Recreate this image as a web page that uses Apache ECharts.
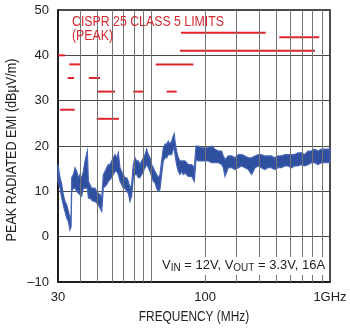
<!DOCTYPE html>
<html><head><meta charset="utf-8">
<script src="https://cdn.jsdelivr.net/npm/echarts@6/dist/echarts.min.js"></script>
<style>html,body{margin:0;padding:0;background:#fff}#c{width:350px;height:329px}</style>
</head><body><div id="c"></div>
<script>
// Measured noise band (frequency in MHz, lower and upper edge in dBµV/m)
const noiseFreq = [30, 30.8, 31.5, 32.1, 32.8, 33.6, 34.3, 35.0, 35.5, 35.8, 36.6, 37.4, 38.2, 39.0, 39.8, 40.7, 41.6, 42.5, 43.8, 44.4, 45.3, 46.3, 47.3, 48.3, 49.4, 50.5, 51.6, 52.7, 53.8, 55.0, 56.2, 57.4, 58.6, 59.9, 61.2, 62.5, 63.9, 65.3, 66.7, 68.2, 69.6, 71.1, 72.7, 74.3, 75.9, 77.5, 79.2, 80.9, 82.7, 84.5, 86.3, 88.2, 90.1, 92.1, 94.1, 96.1, 98.2, 100.3, 102.5, 104.7, 107.0, 109.3, 111.7, 114.1, 116.6, 119.1, 121.7, 124.3, 127.0, 129.8, 132.6, 134.3, 135.5, 138.4, 141.4, 144.5, 147.6, 150.8, 154.1, 157.5, 160.9, 164.4, 168.1, 173.9, 177.7, 183.2, 191.2, 199.6, 208.4, 217.6, 227.0, 237.0, 247.4, 252.8, 258.3, 269.6, 281.5, 293.9, 306.8, 320.3, 334.3, 349.0, 364.3, 380.3, 397.0, 412.7, 430.8, 449.7, 469.5, 490.1, 511.6, 534.1, 557.5, 582.0, 607.6, 634.2, 662.1, 691.2, 721.5, 753.3, 786.3, 820.8, 856.8, 894.6, 933.9, 974.7, 1000];
const noiseLow = [12.2, 10.7, 8.5, 7.0, 5.6, 4.1, 3.3, 1.5, 2.2, 10.0, 10.7, 10.7, 10.0, 9.6, 9.3, 8.9, 10.7, 10.7, 10.7, 8.5, 8.5, 8.1, 7.8, 7.8, 7.4, 7.0, 6.3, 5.6, 10.7, 11.1, 11.5, 12.2, 12.6, 13.0, 13.7, 14.4, 14.4, 13.7, 12.2, 11.5, 10.7, 10.7, 10.0, 9.6, 7.8, 8.9, 13.0, 13.7, 13.7, 13.0, 13.0, 13.7, 14.4, 15.2, 15.9, 15.2, 14.4, 13.3, 12.2, 11.9, 10.7, 10.0, 10.4, 13.7, 16.7, 17.4, 17.4, 18.1, 18.1, 18.1, 19.3, 19.6, 18.1, 15.9, 14.4, 13.7, 14.4, 13.7, 14.1, 13.7, 13.3, 13.3, 13.3, 12.2, 17.0, 16.7, 16.7, 16.7, 16.7, 16.3, 16.3, 16.3, 15.9, 15.2, 13.3, 15.2, 15.2, 14.8, 15.2, 15.6, 15.2, 14.8, 13.7, 15.2, 15.6, 15.2, 14.8, 15.2, 15.2, 14.8, 15.2, 15.2, 15.6, 15.6, 15.2, 15.6, 15.6, 15.9, 15.6, 15.9, 16.3, 16.3, 15.9, 16.3, 16.3, 16.3, 16.3];
const noiseHigh = [15.9, 13.0, 11.5, 9.3, 7.8, 7.0, 5.6, 4.1, 4.8, 13.0, 13.7, 15.2, 14.4, 13.0, 13.7, 13.0, 14.4, 16.7, 18.9, 12.2, 11.5, 10.7, 10.7, 10.7, 10.0, 9.6, 9.3, 8.5, 13.7, 14.4, 15.2, 15.9, 15.9, 16.7, 17.4, 18.1, 17.4, 18.5, 15.2, 14.4, 13.7, 13.0, 13.0, 12.2, 10.7, 11.5, 15.9, 17.4, 16.7, 16.7, 15.9, 16.7, 17.4, 18.1, 19.3, 18.1, 17.4, 15.9, 15.2, 14.4, 13.7, 13.0, 13.7, 16.7, 19.6, 20.4, 20.4, 21.1, 20.4, 21.1, 22.2, 22.7, 21.1, 18.9, 17.4, 16.7, 16.7, 16.7, 16.7, 16.3, 15.9, 15.9, 15.9, 15.2, 20.0, 20.0, 19.6, 19.6, 19.6, 20.0, 19.3, 18.9, 18.9, 17.8, 17.0, 17.8, 17.8, 17.4, 18.1, 18.1, 17.8, 17.4, 17.4, 17.8, 18.1, 18.1, 17.8, 17.8, 17.8, 17.4, 17.8, 17.8, 18.1, 18.1, 18.1, 18.1, 18.5, 18.5, 18.1, 18.9, 18.9, 19.3, 18.9, 19.3, 19.3, 19.3, 19.3];

// CISPR 25 class 5 peak limit segments
const limitStart = [30, 34.7, 34.0, 44.7, 30.8, 50.0, 79.2, 121.8, 49.4, 105.7, 146.5, 520, 144.6];
const limitEnd   = [32.8, 39.8, 36.9, 51.6, 37.2, 62.6, 90.1, 138.5, 65.9, 171.7, 436.6, 871, 824];
const limitLevel = [40, 38, 35, 35, 28, 32, 32, 32, 26, 38, 45, 44, 41];

// Axis ticks / grid
const gridFreqs = [40, 50, 60, 70, 80, 90, 100, 200, 300, 400, 500, 600, 700, 800, 900];
const xTickValues = [30, 200, 1000];
const xTickLabels = ['30', '100', '1GHz'];
const yMin = -10, yMax = 50, yStep = 10;

const SANS = '"Liberation Sans", Arial, sans-serif';
const BLUE = '#2f4f9f';
const RED = '#e0242c';

const series = [];
series.push({
  type: 'line', data: [], silent: true, z: 1,
  markLine: {
    silent: true, symbol: 'none', label: { show: false },
    lineStyle: { color: '#727272', width: 1, type: 'solid' },
    data: gridFreqs.map(f => ({ xAxis: f }))
  }
});
series.push({
  type: 'custom', silent: true, z: 2,
  data: noiseFreq.map((f, i) => [f, noiseLow[i], noiseHigh[i]]),
  encode: { x: 0, y: [1, 2] },
  renderItem: function (params, api) {
    if (params.dataIndex !== 0) return null;
    const pts = [];
    for (let i = 0; i < noiseFreq.length; i++) pts.push(api.coord([noiseFreq[i], noiseHigh[i]]));
    for (let i = noiseFreq.length - 1; i >= 0; i--) pts.push(api.coord([noiseFreq[i], noiseLow[i]]));
    return { type: 'polygon', shape: { points: pts },
      style: { fill: BLUE, stroke: '#4766b6', lineWidth: 1.2 } };
  }
});
limitLevel.forEach((lv, i) => {
  series.push({
    type: 'line', symbol: 'none', silent: true, z: 3,
    data: [[limitStart[i], lv], [limitEnd[i], lv]],
    lineStyle: { color: RED, width: 2 }
  });
});

const option = {
  animation: false,
  grid: { left: 58, right: 20, top: 10, bottom: 47, show: true, borderColor: '#111', borderWidth: 1.5, backgroundColor: '#fff' },
  xAxis: {
    type: 'log', logBase: 10, min: 30, max: 1000,
    axisLine: { show: true, onZero: false, lineStyle: { color: '#111', width: 1.5 } },
    axisTick: { show: false }, axisLabel: { show: false }, splitLine: { show: false }
  },
  yAxis: {
    type: 'value', min: yMin, max: yMax, interval: yStep,
    axisLine: { show: true, lineStyle: { color: '#111', width: 1.5 } },
    axisTick: { show: false },
    axisLabel: { margin: 9, fontSize: 13, fontFamily: SANS, color: '#222',
      formatter: v => (v < 0 ? '\u2013' + Math.abs(v) : String(v)) },
    splitLine: { lineStyle: { color: '#4a4a4a', width: 1 } }
  },
  series: series
};

const chart = echarts.init(document.getElementById('c'), null, { renderer: 'canvas' });
chart.setOption(option);

const graphics = xTickValues.map((v, i) => {
  const p = chart.convertToPixel({ xAxisIndex: 0, yAxisIndex: 0 }, [v, yMin]);
  return { type: 'text', x: p[0], y: p[1] + 9, z: 10,
    style: { text: xTickLabels[i], align: 'center', verticalAlign: 'top', fontSize: 13, fontFamily: SANS, fill: '#222' } };
});
const pMid = chart.convertToPixel({ xAxisIndex: 0, yAxisIndex: 0 }, [Math.sqrt(30 * 1000), (yMin + yMax) / 2]);
graphics.push({
  type: 'text', x: pMid[0], y: 310, scaleX: 0.85, z: 10,
  style: { text: 'FREQUENCY (MHz)', align: 'center', verticalAlign: 'top', fontSize: 14, fontFamily: SANS, fill: '#222' }
});
graphics.push({
  type: 'text', x: 12, y: pMid[1] + 4, rotation: Math.PI / 2, scaleX: 0.9, z: 10,
  style: { text: 'PEAK RADIATED EMI (dB\u00b5V/m)', align: 'center', verticalAlign: 'middle', fontSize: 14, fontFamily: SANS, fill: '#222' }
});
graphics.push({
  type: 'text', x: 72, y: 15, scaleX: 0.88, z: 10,
  style: { text: 'CISPR 25 CLASS 5 LIMITS\n(PEAK)', fontSize: 14, lineHeight: 14, fontFamily: SANS, fill: '#d42a30' }
});
graphics.push({
  type: 'text', x: 161, y: 257, z: 10,
  style: {
    text: '{n|V}{s|IN}{n| = 12V, V}{s|OUT}{n| = 3.3V, 16A}',
    backgroundColor: '#fff', padding: [0, 2, 2, 1],
    rich: {
      n: { fontSize: 13, fontFamily: SANS, fill: '#222', lineHeight: 16 },
      s: { fontSize: 10, fontFamily: SANS, fill: '#222', lineHeight: 10, verticalAlign: 'bottom' }
    }
  }
});
chart.setOption({ graphic: graphics });
</script>
</body></html>
